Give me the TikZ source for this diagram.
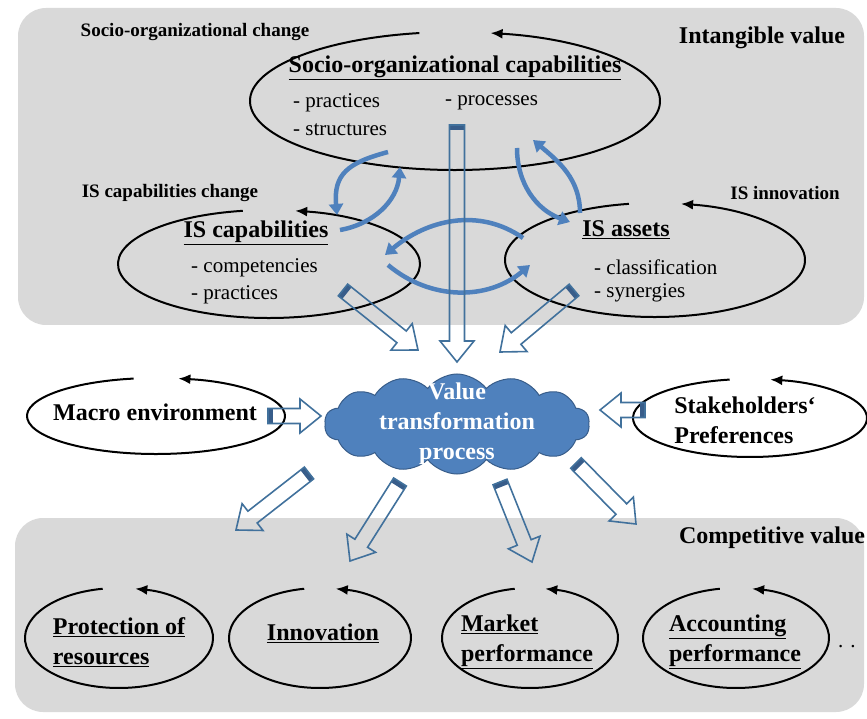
\documentclass[tikz,border=0pt]{standalone}
\usepackage{fontspec}
\setmainfont{Liberation Serif}
\usetikzlibrary{arrows.meta,positioning,calc,shapes.symbols}
\definecolor{panel}{HTML}{D9D9D9}
\definecolor{flowblue}{HTML}{4F81BD}
\definecolor{edgeblue}{HTML}{41719C}
\definecolor{capblue}{HTML}{385D8A}
\tikzset{
  region/.style={fill=panel,rounded corners=28pt},
  cyc/.style={-{Latex[length=12pt,width=10pt]},line width=2pt,draw=black},
  flow/.style={-{Triangle[length=11pt,width=14pt]},line width=4.5pt,draw=flowblue},
  hollow/.style={draw=edgeblue,line width=1.6pt,line join=miter},
  tailcap/.style={fill=capblue},
  head/.style={font=\fontsize{24}{30}\selectfont\bfseries,align=left,inner sep=0pt},
  item/.style={font=\fontsize{21}{26}\selectfont,inner sep=0pt,anchor=west},
  tag/.style={font=\fontsize{19}{23}\selectfont\bfseries,inner sep=0pt},
  cloudy/.style={cloud,cloud puffs=14,cloud puff arc=105,aspect=2.7,fill=flowblue,draw=capblue,line width=1pt,minimum width=265pt,minimum height=100pt,inner sep=0pt}
}
% ellipse drawn as a cycle with a gap at the top
\newcommand{\turnloop}[3]{\draw[cyc] (#1) ++(100:#2 and #3) arc[start angle=100,end angle=440,x radius=#2,y radius=#3];}
% hollow block arrow with a filled tail
\newcommand{\blockarrow}[2]{%
  \coordinate (ba-h) at ($(#2)!21pt!(#1)$);
  \coordinate (ba-t) at ($(#1)!5pt!(#2)$);
  \fill[tailcap] ($(#1)!7.5pt!90:(#2)$) -- ($(ba-t)!7.5pt!90:(#2)$) -- ($(ba-t)!7.5pt!-90:(#2)$) -- ($(#1)!7.5pt!-90:(#2)$) -- cycle;
  \draw[hollow] ($(#1)!7.5pt!90:(#2)$) -- ($(ba-h)!7.5pt!90:(#2)$) -- ($(ba-h)!17pt!90:(#2)$) -- (#2)
    -- ($(ba-h)!17pt!-90:(#2)$) -- ($(ba-h)!7.5pt!-90:(#2)$) -- ($(#1)!7.5pt!-90:(#2)$) -- cycle;}

\begin{document}
\begin{tikzpicture}[x=1pt,y=1pt]
  \useasboundingbox (0,0) rectangle (867,718);
  \fill[region] (18,393) rectangle (864,710);
  \fill[region] (15,6) rectangle (864,200);

  % intangible value
  \node[tag] (socchg) at (195,686) {Socio-organizational change};
  \node[head] (intang) at (762,680) {Intangible value};
  \coordinate (soc) at (455,617);
  \node[head] (soctitle) at (455,650) {\underline{Socio-organizational capabilities}};
  \node[item] (soc1) at (293,615) {- practices};
  \node[item] (soc2) at (445,615) {- processes};
  \node[item] (soc3) at (293,588) {- structures};
  \turnloop{soc}{205pt}{69pt}

  \node[tag] (iscchg) at (170,525) {IS capabilities change};
  \coordinate (isc) at (269,454);
  \node[head] (isctitle) at (256,485) {\underline{IS capabilities}};
  \node[item] (isc1) at (191,450) {- competencies};
  \node[item] (isc2) at (191,423) {- practices};
  \turnloop{isc}{151pt}{54pt}

  \node[tag] (isinno) at (785,525) {IS innovation};
  \coordinate (isa) at (655,458);
  \node[head] (isatitle) at (626,488) {\underline{IS assets}};
  \node[item] (isa1) at (594,451) {- classification};
  \node[item] (isa2) at (594,425) {- synergies};
  \turnloop{isa}{150pt}{57pt}

  \coordinate (f1s) at (388,566); \coordinate (f1e) at (337,503);
  \coordinate (f2s) at (340,488); \coordinate (f2e) at (400,551);
  \coordinate (f3s) at (517,570); \coordinate (f3e) at (570,496);
  \coordinate (f4s) at (580,505); \coordinate (f4e) at (533,578);
  \coordinate (f5s) at (523,480); \coordinate (f5e) at (385,463);
  \coordinate (f6s) at (388,453); \coordinate (f6e) at (530,453);
  \draw[flow] (f1s) to[out=195,in=95,looseness=1.3] (f1e);
  \draw[flow] (f2s) to[out=10,in=265] (f2e);
  \draw[flow] (f3s) to[out=-90,in=160] (f3e);
  \draw[flow] (f4s) to[out=90,in=-40] (f4e);
  \draw[flow] (f5s) to[out=145,in=40] (f5e);
  \draw[flow] (f6s) to[out=-40,in=220] (f6e);

  % transformation
  \node[cloudy] (vtp) at (457,294) {};
  \node[head,text=white,align=center] (vtptext) at (vtp) {Value\\transformation\\process};

  \coordinate (macro) at (156,302);
  \node[head] (macrotext) at (155,306) {Macro environment};
  \turnloop{macro}{129pt}{38pt}

  \coordinate (stake) at (750,300);
  \node[head] (staketext) at (745,298) {Stakeholders‘\\Preferences};
  \turnloop{stake}{117pt}{39pt}

  \coordinate (socout) at (457,593); \coordinate (socin) at (457,356);
  \coordinate (iscout) at (343,428); \coordinate (iscin) at (418,368);
  \coordinate (isaout) at (574,428); \coordinate (isain) at (500,366);
  \coordinate (macout) at (268,302); \coordinate (macin) at (321,302);
  \coordinate (stkout) at (645,308); \coordinate (stkin) at (600,308);
  \blockarrow{socout}{socin}
  \blockarrow{iscout}{iscin}
  \blockarrow{isaout}{isain}
  \blockarrow{macout}{macin}
  \blockarrow{stkout}{stkin}

  % competitive value
  \node[head] (compet) at (772,180) {Competitive value};
  \coordinate (prot) at (119,80);
  \node[head] (prottext) at (119,76) {\underline{Protection of}\\\underline{resources}};
  \turnloop{prot}{94pt}{50pt}
  \coordinate (inno) at (320,80);
  \node[head] (innotext) at (323,85) {\underline{Innovation}};
  \turnloop{inno}{91pt}{50pt}
  \coordinate (mark) at (530,80);
  \node[head] (marktext) at (527,76) {\underline{Market}\\\underline{performance}};
  \turnloop{mark}{88pt}{50pt}
  \coordinate (acct) at (736,80);
  \node[head] (accttext) at (735,76) {\underline{Accounting}\\\underline{performance}};
  \turnloop{acct}{93pt}{50pt}
  \node[item,font=\fontsize{21}{26}\selectfont] (more) at (838,71) {. .};

  \coordinate (b1out) at (309,245); \coordinate (b1in) at (236,188);
  \coordinate (b2out) at (400,236); \coordinate (b2in) at (350,157);
  \coordinate (b3out) at (500,236); \coordinate (b3in) at (532,156);
  \coordinate (b4out) at (576,255); \coordinate (b4in) at (636,194);
  \blockarrow{b1out}{b1in}
  \blockarrow{b2out}{b2in}
  \blockarrow{b3out}{b3in}
  \blockarrow{b4out}{b4in}
\end{tikzpicture}
\end{document}
